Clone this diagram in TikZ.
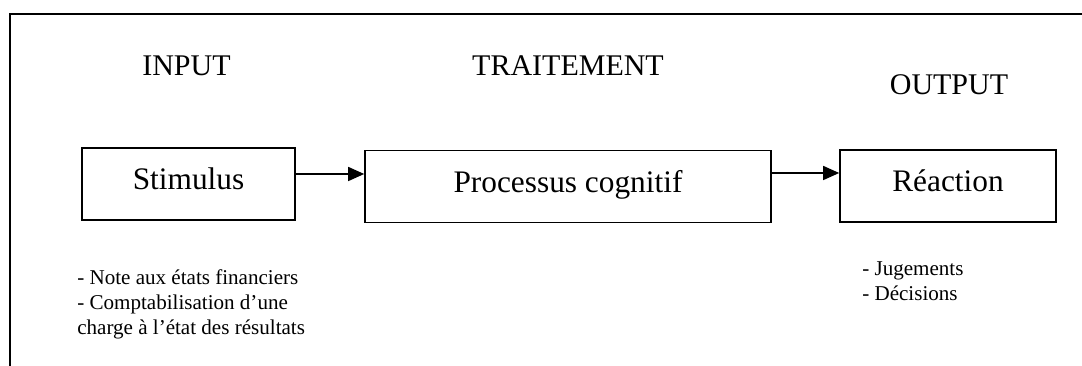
\documentclass[tikz,border=0pt]{standalone}
\usepackage{fontspec}
\setmainfont{Liberation Serif}
\usetikzlibrary{arrows.meta}
\begin{document}
\begin{tikzpicture}[x=0.75pt,y=-0.75pt,
  heading/.style={font=\fontsize{22.5}{27}\selectfont, inner sep=0pt, anchor=base},
  stagebox/.style={draw, line width=1.2pt, inner sep=0pt,
    font=\fontsize{23.5}{28}\selectfont, text height=9pt, text depth=0pt,
    minimum height=54pt},
  notes/.style={font=\fontsize{15.8}{18.8}\selectfont, align=left, inner sep=0pt, anchor=north west},
  flow/.style={line width=1.1pt, -{Triangle[length=12pt,width=10.5pt]}},
  frame/.style={line width=1.1pt}]
  \useasboundingbox (0,0) rectangle (1082,366);

  % open frame: top and left sides
  \draw[frame] (10,366) -- (10,14) -- (1082,14);

  % stage headings
  \node[heading] (hin)  at (186.5,76) {INPUT};
  \node[heading] (htr)  at (568,76)   {TRAITEMENT};
  \node[heading] (hout) at (949,95)   {OUTPUT};

  % stages
  \node[stagebox, minimum width=159.75pt] (stim) at (188.5,184)   {Stimulus};
  \node[stagebox, minimum width=304.5pt]  (proc) at (568,186.5)   {Processus cognitif};
  \node[stagebox, minimum width=162pt]    (reac) at (948,186)     {Réaction};

  % connectors
  \coordinate (a1) at (330,174);
  \coordinate (a2) at (805,173);
  \draw[flow] (stim.east |- a1) -- (proc.west |- a1);
  \draw[flow] (proc.east |- a2) -- (reac.west |- a2);

  % details
  \node[notes] (nin) at (77,269)
    {- Note aux états financiers\\- Comptabilisation d’une\\charge à l’état des résultats};
  \node[notes] (nout) at (862,261) {- Jugements\\- Décisions};
\end{tikzpicture}
\end{document}
